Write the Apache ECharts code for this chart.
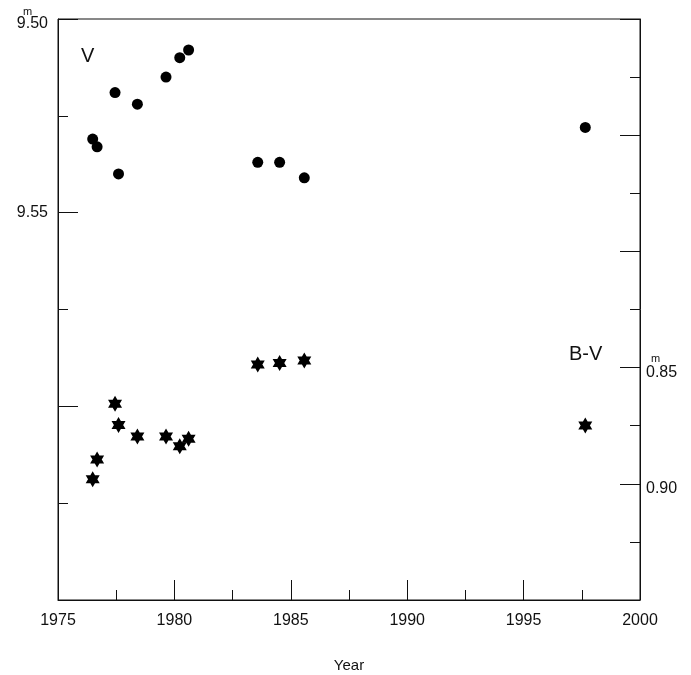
<!DOCTYPE html>
<html>
<head>
    <meta charset="utf-8">
    <title>V, B-V</title>
    <script src="https://cdn.jsdelivr.net/npm/echarts@6/dist/echarts.min.js"></script>
    <style type="text/css">
        html, body { margin: 0; padding: 0; background: #fff; }
        #main { width: 691px; height: 675px; }
    </style>
</head>
<body>
<div id="main"></div>
<script type="text/javascript">
    // observation epochs (same for both series)
    var years = [1976.49, 1976.68, 1977.45, 1977.60, 1978.41, 1979.64, 1980.23, 1980.61, 1983.58, 1984.52, 1985.58, 1997.65];
    var vMag = [9.531, 9.533, 9.519, 9.540, 9.522, 9.515, 9.510, 9.508, 9.537, 9.537, 9.541, 9.528];
    var bvColor = [0.898, 0.8895, 0.8656, 0.8747, 0.8797, 0.8797, 0.8838, 0.8806, 0.8487, 0.848, 0.8469, 0.8749];

    // tick labels actually printed on the axes
    var yearLabels = ['1975', '1980', '1985', '1990', '1995', '2000'];
    var vLabels = ['9.50', '9.55'];
    var bvLabels = ['0.85', '0.90'];

    var FONT = "'Liberation Sans', Arial, sans-serif";
    var INK = '#111';
    var hexagram = 'path://M0,-1 L0.866,0.5 L-0.866,0.5 Z M0,1 L-0.866,-0.5 L0.866,-0.5 Z';

    function pairs(xs, ys) {
        var out = [];
        for (var i = 0; i < xs.length; i++) out.push([xs[i], ys[i]]);
        return out;
    }

    function axisStyle() {
        return {
            axisLine: {show: true, lineStyle: {color: INK, width: 1}},
            axisTick: {show: true, inside: true, length: 20, lineStyle: {color: INK, width: 1}},
            minorTick: {show: true, splitNumber: 2, length: 10, lineStyle: {color: INK, width: 1}},
            splitLine: {show: false},
            minorSplitLine: {show: false}
        };
    }

    var chart = echarts.init(document.getElementById('main'));

    var xAxis = Object.assign(axisStyle(), {
        type: 'value',
        min: 1975, max: 2000, interval: 5,
        name: 'Year',
        nameLocation: 'middle',
        nameGap: 58,
        nameTextStyle: {fontFamily: FONT, fontSize: 15, color: INK},
        axisLabel: {
            fontFamily: FONT, fontSize: 16, color: INK, margin: 13,
            formatter: function (v) {
                var s = String(Math.round(v));
                return yearLabels.indexOf(s) >= 0 ? s : '';
            }
        }
    });

    var yLeft = Object.assign(axisStyle(), {
        type: 'value',
        position: 'left',
        inverse: true,
        min: 9.50, max: 9.65, interval: 0.05,
        axisLabel: {
            fontFamily: FONT, fontSize: 16, color: INK, margin: 10,
            formatter: function (v) {
                var s = v.toFixed(2);
                if (vLabels.indexOf(s) < 0) return '';
                return s === vLabels[0] ? '{low|' + s + '}' : s;
            },
            rich: {
                low: {fontFamily: FONT, fontSize: 16, color: INK, padding: [10, 0, 0, 0]}
            }
        }
    });

    var yRight = Object.assign(axisStyle(), {
        type: 'value',
        position: 'right',
        inverse: true,
        min: 0.70, max: 0.95, interval: 0.05,
        axisLabel: {
            fontFamily: FONT, fontSize: 16, color: INK, margin: 6,
            formatter: function (v) {
                var s = v.toFixed(2);
                return bvLabels.indexOf(s) >= 0 ? '{low|' + s + '}' : '';
            },
            rich: {
                low: {fontFamily: FONT, fontSize: 16, color: INK, padding: [9, 0, 0, 0]}
            }
        }
    });

    chart.setOption({
        animation: false,
        grid: {
            left: 58, right: 51, top: 19, bottom: 75,
            outerBoundsMode: 'none',
            containLabel: false,
            show: true, borderColor: INK, borderWidth: 1, backgroundColor: 'transparent'
        },
        xAxis: xAxis,
        yAxis: [yLeft, yRight],
        graphic: [
            // series labels
            {type: 'text', left: 81, top: 46, style: {text: 'V', font: '20px ' + FONT, fill: INK}},
            {type: 'text', left: 569, top: 344, style: {text: 'B-V', font: '20px ' + FONT, fill: INK}},
            // magnitude superscripts
            {type: 'text', left: 23, top: 6, style: {text: 'm', font: '11px ' + FONT, fill: INK}},
            {type: 'text', left: 651, top: 353, style: {text: 'm', font: '11px ' + FONT, fill: INK}}
        ],
        series: [
            {
                name: 'V',
                type: 'scatter',
                xAxisIndex: 0,
                yAxisIndex: 0,
                symbol: 'circle',
                symbolSize: 11,
                itemStyle: {color: '#000', opacity: 1},
                data: pairs(years, vMag)
            },
            {
                name: 'B-V',
                type: 'scatter',
                xAxisIndex: 0,
                yAxisIndex: 1,
                symbol: hexagram,
                symbolSize: [14, 16],
                itemStyle: {color: '#000', opacity: 1},
                data: pairs(years, bvColor)
            }
        ]
    });
</script>
</body>
</html>
